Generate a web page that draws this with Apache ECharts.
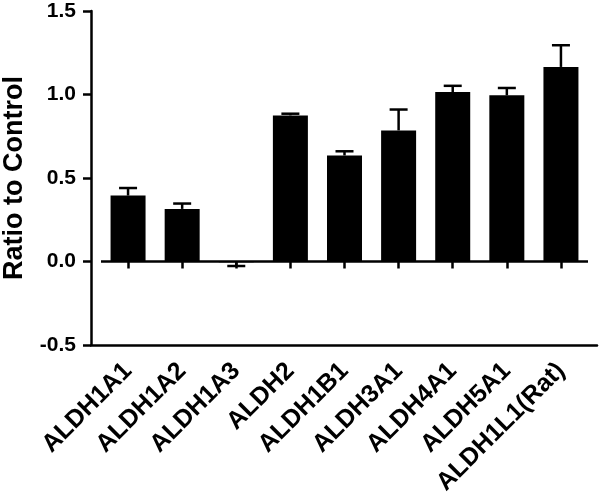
<!DOCTYPE html>
<html>
<head>
<meta charset="utf-8">
<script src="https://cdn.jsdelivr.net/npm/echarts@6/dist/echarts.min.js"></script>
<style>
  html, body { margin: 0; padding: 0; background: #fff; }
  #chart { width: 600px; height: 500px; }
</style>
</head>
<body>
<div id="chart"></div>
<script>
const categories = ['ALDH1A1', 'ALDH1A2', 'ALDH1A3', 'ALDH2', 'ALDH1B1', 'ALDH3A1', 'ALDH4A1', 'ALDH5A1', 'ALDH1L1(Rat)'];
const ratios = [0.395, 0.315, -0.005, 0.875, 0.635, 0.785, 1.015, 0.995, 1.165];
const errors = [0.045, 0.032, 0.022, 0.01, 0.025, 0.125, 0.037, 0.044, 0.13];

const chart = echarts.init(document.getElementById('chart'));

// error bars go in the direction of the bar
const errData = ratios.map((v, i) => [i, v, v >= 0 ? v + errors[i] : v - errors[i]]);

const font = '"Liberation Sans", Arial, sans-serif';

chart.setOption({
  animation: false,
  grid: [
    { left: 101, right: 12, top: 11, bottom: 155, outerBoundsMode: 'none', containLabel: false },
    { left: 91, right: 3, top: 11, bottom: 155, outerBoundsMode: 'none', containLabel: false }
  ],
  xAxis: [
    {
      type: 'category',
      gridIndex: 0,
      data: categories,
      axisLine: { show: false },
      axisTick: { show: true, alignWithLabel: true, length: 7, lineStyle: { color: '#000', width: 2.5 } },
      axisLabel: {
        rotate: 45,
        margin: 22,
        color: '#000',
        fontFamily: font,
        fontWeight: 'bold',
        fontSize: 25
      }
    },
    {
      type: 'value',
      gridIndex: 1,
      min: 0, max: 1,
      position: 'bottom',
      axisLine: { show: true, onZero: false, lineStyle: { color: '#000', width: 2.5 } },
      axisTick: { show: false },
      axisLabel: { show: false },
      splitLine: { show: false }
    }
  ],
  yAxis: [
    {
      type: 'value',
      gridIndex: 0,
      min: -0.5, max: 1.5, interval: 0.5,
      offset: 10,
      name: 'Ratio to Control',
      nameLocation: 'middle',
      nameGap: 63,
      nameTextStyle: {
        color: '#000',
        fontFamily: font,
        fontWeight: 'bold',
        fontSize: 27
      },
      axisLine: { show: true, onZero: false, lineStyle: { color: '#000', width: 2.5 } },
      axisTick: { show: true, length: 8, lineStyle: { color: '#000', width: 2.5 } },
      axisLabel: {
        margin: 15,
        color: '#000',
        fontFamily: font,
        fontWeight: 'bold',
        fontSize: 21,
        formatter: v => v.toFixed(1)
      },
      splitLine: { show: false }
    },
    {
      type: 'value',
      gridIndex: 1,
      min: 0, max: 1,
      show: false
    }
  ],
  series: [
    {
      type: 'bar',
      xAxisIndex: 0,
      yAxisIndex: 0,
      data: ratios,
      barWidth: 35,
      itemStyle: { color: '#000' },
      markLine: {
        silent: true,
        symbol: 'none',
        label: { show: false },
        lineStyle: { color: '#000', width: 2.5, type: 'solid' },
        data: [{ yAxis: 0 }]
      }
    },
    {
      type: 'custom',
      xAxisIndex: 0,
      yAxisIndex: 0,
      data: errData,
      renderItem: (params, api) => {
        const base = api.coord([api.value(0), api.value(1)]);
        const tip = api.coord([api.value(0), api.value(2)]);
        const half = 9;
        const style = { stroke: '#000', lineWidth: 2.5 };
        return {
          type: 'group',
          children: [
            { type: 'line', shape: { x1: base[0], y1: base[1], x2: tip[0], y2: tip[1] }, style },
            { type: 'line', shape: { x1: tip[0] - half, y1: tip[1], x2: tip[0] + half, y2: tip[1] }, style }
          ]
        };
      },
      z: 1
    }
  ]
});
</script>
</body>
</html>
